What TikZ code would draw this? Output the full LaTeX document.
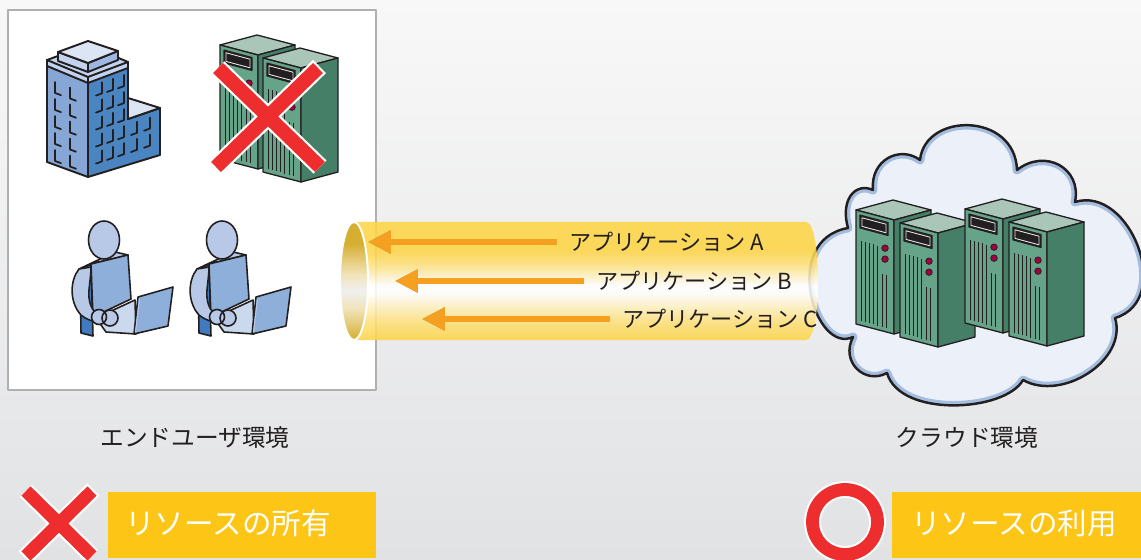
\documentclass[tikz,border=0pt]{standalone}
\usepackage{fontspec}
\setmainfont{Noto Sans CJK JP}
\usetikzlibrary{arrows.meta,calc}

\definecolor{bgtop}{HTML}{F8F8F8}
\definecolor{bgbot}{HTML}{E1E2E4}
\definecolor{boxline}{HTML}{B0B0B0}
\definecolor{ink}{HTML}{231F20}
\definecolor{bldL}{HTML}{86A7D5}
\definecolor{bldR}{HTML}{4A85C1}
\definecolor{bldTop}{HTML}{DCE5F4}
\definecolor{bldRoof}{HTML}{C3D3EE}
\definecolor{blkR}{HTML}{9DB8E1}
\definecolor{srvF}{HTML}{66A48A}
\definecolor{srvS}{HTML}{457F68}
\definecolor{srvT}{HTML}{A9C6B8}
\definecolor{srvDot}{HTML}{A3003F}
\definecolor{xred}{HTML}{EE2D2E}
\definecolor{tubeY}{HTML}{FDD446}
\definecolor{tubeGold}{HTML}{D6AE30}
\definecolor{arrowOr}{HTML}{F5A021}
\definecolor{shadowGray}{HTML}{8C8C8C}
\definecolor{cloudFill}{HTML}{ECF1F9}
\definecolor{cloudBlue}{HTML}{A4BCDD}
\definecolor{userLight}{HTML}{B7C9E7}
\definecolor{userMid}{HTML}{8EAFD9}
\definecolor{userDark}{HTML}{3F7BBE}
\definecolor{kbd}{HTML}{CBD9EF}
\definecolor{tagY}{HTML}{FDC515}
\colorlet{tubeMid}{tubeY!70!white}
\colorlet{goldMid}{tubeGold!35!white}
\colorlet{goldLight}{gray!12}

\pgfdeclareverticalshading{tubeshade}{100bp}{color(0bp)=(tubeY); color(25bp)=(tubeY); color(33bp)=(tubeMid); color(45bp)=(white); color(48bp)=(white); color(57bp)=(tubeMid); color(63bp)=(tubeY); color(100bp)=(tubeY)}
\pgfdeclareverticalshading{openshade}{100bp}{color(0bp)=(tubeGold); color(25bp)=(tubeGold); color(38bp)=(goldMid); color(46bp)=(goldLight); color(53bp)=(goldMid); color(66bp)=(tubeGold); color(100bp)=(tubeGold)}

\newcommand\appfont{\fontsize{12.6pt}{14pt}\selectfont}
\newcommand\envfont{\fontsize{13.5pt}{15pt}\selectfont}
\newcommand\tagfont{\fontsize{16.8pt}{18pt}\selectfont}

\tikzset{
  bldline/.style={draw=ink, line width=1.1pt, line join=round},
  winline/.style={draw=ink, line width=1pt, line cap=round, line join=round},
  srvline/.style={draw=ink, line width=0.75pt, line join=round},
  slot/.style={draw=ink, line width=0.45pt},
  usrline/.style={draw=ink, line width=0.9pt, line join=round},
  crossbg/.style={draw=white, line width=#1},
  crossfg/.style={draw=xred, line width=#1},
  cloudline/.style={draw=ink, line width=1.4pt},
  applabel/.style={font=\appfont, text=ink, inner sep=0pt, anchor=west},
  envlabel/.style={font=\envfont, text=ink, inner sep=0pt},
  taglabel/.style={font=\tagfont, text=white, inner sep=0pt},
  apparrow/.style={draw=arrowOr, line width=3.4pt, -{Triangle[length=13pt,width=12.5pt]}},
  appshadow/.style={draw=shadowGray, line width=3.4pt, -{Triangle[length=13pt,width=12.5pt]}, xshift=1.1pt, yshift=-1.1pt},
  tower/.pic={
    \path[srvline, fill=srvT] (0,0) -- (38,10) -- (75,0) -- (37,-10) -- cycle;
    \path[srvline, fill=srvF] (0,0) -- (38,10) -- (38,124) -- (0,114) -- cycle;
    \path[srvline, fill=srvS] (38,10) -- (75,0) -- (75,114) -- (38,124) -- cycle;
    \path[draw=ink, fill=ink, line width=0.6pt] (4,5) -- (32,12.5) -- (32,25.5) -- (4,18) -- cycle;
    \draw[white!80!gray, line width=0.5pt] (6,7.8) -- (30,14.2) -- (30,22.8) -- (6,16.4) -- cycle;
    \foreach \x in {5,9,13,17,21} \draw[slot] (\x,{\x*10/38+30}) -- (\x,{\x*10/38+110});
    \foreach \x in {26,30} \draw[slot] (\x,{\x*10/38+57}) -- (\x,{\x*10/38+110});
    \path[draw=ink, fill=srvDot, line width=0.4pt] (29,{29*10/38+30.5}) circle (3.3) (29,{29*10/38+41.5}) circle (3.3);
  },
  user/.pic={
    % torso side and seat
    \path[usrline, fill=userDark] (-24,30) -- (-13,24) -- (-11,96) -- (-23,93) -- cycle;
    % torso top
    \path[usrline, fill=userLight] (-25,29) -- (-13,24) -- (24,15) -- (11,12) -- cycle;
    % torso front
    \path[usrline, fill=userMid] (-13,24) -- (24,15) -- (27,59) -- (-11,77) -- cycle;
    % head
    \path[usrline, fill=userLight] (0,0) circle[x radius=15.5, y radius=19];
    % arm
    \path[usrline, fill=userLight] (-25,29) .. controls (-34,40) and (-35,62) .. (-23,75)
      .. controls (-17,80) and (-10,82) .. (-5,82) -- (-5,74)
      .. controls (-13,72) and (-16,60) .. (-15,50) .. controls (-14,40) and (-13,33) .. (-13,27) -- cycle;
    % laptop base
    \path[usrline, fill=kbd] (-8,78) -- (31,60) -- (32,94) -- (2,92) -- cycle;
    % hands
    \path[usrline, fill=userLight] (-5,77) circle (7.5) (6,78) circle (8);
    % laptop screen
    \path[usrline, fill=userMid] (34,57) -- (69,47) -- (64,86) -- (30,94) -- cycle;
    \draw[userLight, line width=0.6pt] (35.5,59) -- (31.5,92);
  }
}

\begin{document}
\begin{tikzpicture}[x=0.02cm, y=-0.02cm, line join=round]
\useasboundingbox (0,0) rectangle (1141,560);
\shade[top color=bgtop, bottom color=bgbot] (0,0) rectangle (1141,560);

% ---------- end-user environment ----------
\draw[draw=boxline, fill=white, line width=0.9pt] (8,10) rectangle (376,390);

% office building
\path[bldline, fill=bldL] (47,60) -- (88,77) -- (88,177) -- (47,162) -- cycle;
\path[bldline, fill=bldR] (88,77) -- (128,62) -- (128,119) -- (160,108) -- (160,155) -- (88,177) -- cycle;
\path[bldline, fill=bldTop] (128,98) -- (160,108) -- (128,119) -- cycle;
\path[bldline, fill=bldRoof] (47,60) -- (88,45) -- (128,62) -- (128,68) -- (88,83) -- (47,66) -- cycle;
\draw[bldline] (47,60) -- (88,77) -- (128,62) (88,77) -- (88,83);
\path[bldline, fill=bldRoof] (58,52) -- (88,63) -- (88,72) -- (58,61) -- cycle;
\path[bldline, fill=blkR] (88,63) -- (118,51) -- (118,60) -- (88,72) -- cycle;
\path[bldline, fill=bldTop] (58,52) -- (88,63) -- (118,51) -- (88,41) -- cycle;
\foreach \c in {55,70} \foreach \r in {0,...,4} {
  \pgfmathsetmacro\yb{158+(\c-47)*0.37-\r*17}
  \draw[winline] (\c,\yb-11) -- (\c,\yb) -- (\c+6,\yb+2.2);
}
\foreach \c in {102,113,124} \foreach \r in {0,...,4} {
  \pgfmathsetmacro\yb{166-(\c-88)*0.33-\r*17}
  \draw[winline] (\c,\yb-11) -- (\c,\yb) -- (\c-6,\yb+2.2);
}
\foreach \c in {137,150} \foreach \r in {0,1} {
  \pgfmathsetmacro\yb{166-(\c-88)*0.33-\r*17}
  \draw[winline] (\c,\yb-11) -- (\c,\yb) -- (\c-6,\yb+2.2);
}

% own servers, crossed out
\pic at (220,45) {tower};
\pic at (263,58) {tower};
\draw[crossbg=10.5pt, shorten <=-1.2pt, shorten >=-1.2pt] (218,68) -- (320,167) (318,68) -- (216,167);
\draw[crossfg=8pt] (218,68) -- (320,167) (318,68) -- (216,167);

% users with laptops
\pic at (104,240) {user};
\pic at (222,240) {user};

% ---------- cloud environment ----------
\def\cloudpath{(853,337) .. controls (815,355) and (780,240) .. (848,228)
  .. controls (840,200) and (855,182) .. (873,190)
  .. controls (870,160) and (900,145) .. (920,160)
  .. controls (925,112) and (1015,112) .. (1017,170)
  .. controls (1045,148) and (1082,168) .. (1075,202)
  .. controls (1130,185) and (1175,300) .. (1115,318)
  .. controls (1128,360) and (1062,402) .. (1023,380)
  .. controls (1005,412) and (900,418) .. (887,373)
  .. controls (865,385) and (840,362) .. (853,337) -- cycle}
\fill[cloudFill] \cloudpath;
\begin{scope}
  \clip \cloudpath;
  \draw[cloudBlue, line width=5pt] \cloudpath;
\end{scope}
\draw[cloudline] \cloudpath;

\pic at (856,210) {tower};
\pic at (900,223) {tower};
\pic at (965,209) {tower};
\pic at (1009,222) {tower};

% ---------- delivery pipe ----------
\shade[shading=tubeshade, fill opacity=0.88]
  (354,222) -- (806,222) .. controls (822,222) and (822,340) .. (806,340) -- (354,340) -- cycle;
\path[shading=openshade, shade, draw=white, line width=1.1pt] (354,281) ellipse[x radius=14, y radius=59];

% applications
\node[applabel] (appA) at (569,242) {アプリケーション A};
\node[applabel] (appB) at (596,281) {アプリケーション B};
\node[applabel] (appC) at (622,319) {アプリケーション C};
\coordinate (tipA) at (368,242);
\coordinate (tipB) at (395,281);
\coordinate (tipC) at (422,319);
\foreach \n in {A,B,C} {
  \draw[appshadow] ($(app\n.west)+(-12,0)$) -- (tip\n);
  \draw[apparrow] ($(app\n.west)+(-12,0)$) -- (tip\n);
}

% environment captions
\node[envlabel] (envUser) at (195,437) {エンドユーザ環境};
\node[envlabel] (envCloud) at (967,437) {クラウド環境};

% ---------- legend ----------
\fill[tagY] (108,492) rectangle (376,558);
\node[taglabel] (own) at (228,523) {リソースの所有};
\draw[crossbg=9.8pt, shorten <=-1.2pt, shorten >=-1.2pt] (26,491) -- (92,556) (92,491) -- (26,556);
\draw[crossfg=7.4pt] (26,491) -- (92,556) (92,491) -- (26,556);

\fill[tagY] (892,492) rectangle (1141,558);
\node[taglabel] (use) at (1014,523) {リソースの利用};
\draw[white, line width=9.6pt] (845,522) circle (32.5);
\draw[xred, line width=7.3pt] (845,522) circle (32.5);
\end{tikzpicture}
\end{document}
